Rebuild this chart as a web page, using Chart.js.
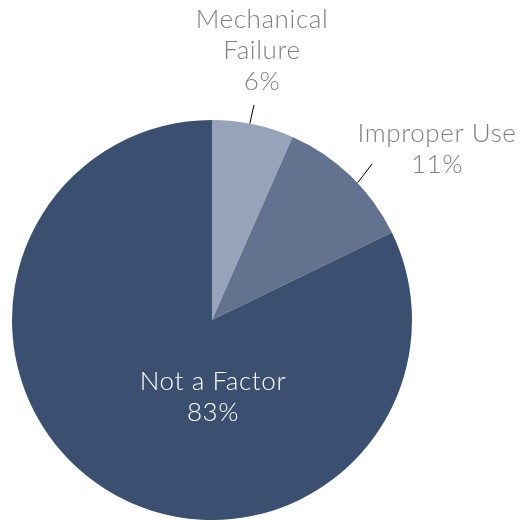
<!DOCTYPE html>
<html>
<head>
<meta charset="utf-8">
<script src="https://cdn.jsdelivr.net/npm/chart.js@4"></script>
<style>
html,body{margin:0;padding:0;background:#fff;}
#wrap{width:526px;height:521px;position:relative;}
</style>
</head>
<body>
<div id="wrap"><canvas id="c" width="526" height="521"></canvas></div>
<script>
const categories = ["Mechanical Failure", "Improper Use", "Not a Factor"];
const values = [6.6, 11.2, 82.2];
const percentLabels = ["6%", "11%", "83%"];
const labelLines = [["Mechanical", "Failure", "6%"], ["Improper Use", "11%"], ["Not a Factor", "83%"]];
const colors = ["#97A3BA", "#63738F", "#3B4F70"];

const FONT = '300 26px Lato, "Open Sans", sans-serif';
const labelLayout = [
  {dx: 50, dy: -300, color: "#7f7f7f", leader: {a0: 10.9, dxEnd: 42, dyEnd: -215}},
  {dx: 225, dy: -186, color: "#7f7f7f", leader: {a0: 46.7, dxEnd: 160, dyEnd: -156}},
  {dx: 1, dy: 62, color: "#ffffff", leader: null}
];

const labelPlugin = {
  id: 'pieLabels',
  afterDatasetsDraw(chart) {
    const ctx = chart.ctx;
    const meta = chart.getDatasetMeta(0);
    meta.data.forEach((arc, i) => {
      const cx = arc.x, cy = arc.y, r = arc.outerRadius;
      const L = labelLayout[i];
      ctx.save();
      if (L.leader) {
        const a = (L.leader.a0 - 90) * Math.PI / 180;
        ctx.beginPath();
        ctx.moveTo(cx + r * Math.cos(a), cy + r * Math.sin(a));
        ctx.lineTo(cx + L.leader.dxEnd, cy + L.leader.dyEnd);
        ctx.strokeStyle = "#000";
        ctx.lineWidth = 1;
        ctx.stroke();
      }
      ctx.font = FONT;
      if ('letterSpacing' in ctx) ctx.letterSpacing = '0.6px';
      ctx.fillStyle = L.color;
      ctx.textAlign = 'center';
      ctx.textBaseline = 'middle';
      const lines = labelLines[i];
      lines.forEach((t, k) => {
        ctx.fillText(t, cx + L.dx, cy + L.dy + k * 31);
      });
      ctx.restore();
    });
  }
};

new Chart(document.getElementById('c'), {
  type: 'pie',
  data: {
    labels: categories,
    datasets: [{
      data: values,
      backgroundColor: colors,
      borderWidth: 0
    }]
  },
  options: {
    responsive: false,
    animation: false,
    layout: {padding: {left: 12, top: 120, right: 114, bottom: 1}},
    plugins: {legend: {display: false}, tooltip: {enabled: false}}
  },
  plugins: [labelPlugin]
});
</script>
</body>
</html>
